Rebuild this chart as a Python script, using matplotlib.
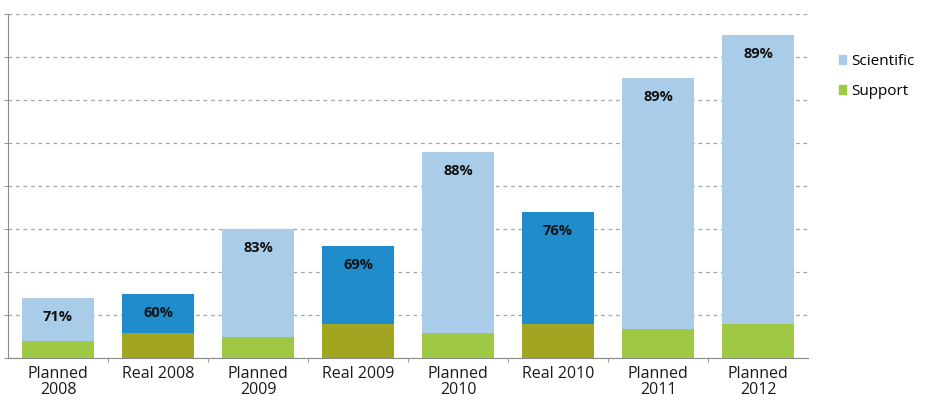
import matplotlib.pyplot as plt
from matplotlib.patches import Patch

categories = ['Planned\n2008', 'Real 2008', 'Planned\n2009', 'Real 2009',
              'Planned\n2010', 'Real 2010', 'Planned\n2011', 'Planned\n2012']
support = [0.40, 0.58, 0.49, 0.79, 0.58, 0.79, 0.67, 0.79]
scientific = [1.00, 0.91, 2.51, 1.81, 4.21, 2.61, 5.84, 6.72]
share_labels = ['71%', '60%', '83%', '69%', '88%', '76%', '89%', '89%']
is_real = [False, True, False, True, False, True, False, False]

plt.rcParams['font.family'] = ['Open Sans', 'DejaVu Sans']

fig = plt.figure(figsize=(9.25, 4.16), dpi=100)
ax = fig.add_axes([8 / 925, 58 / 416, 800 / 925, 344 / 416])

# real years are drawn in the darker shades
sci_colors = ['#1f8dcb' if r else '#a9cce9' for r in is_real]
sup_colors = ['#a2a520' if r else '#9fc944' for r in is_real]

x = list(range(len(categories)))
ax.bar(x, support, width=0.72, color=sup_colors, zorder=2)
bars = ax.bar(x, scientific, width=0.72, bottom=support, color=sci_colors, zorder=2)

for b, lab in zip(bars, share_labels):
    top = b.get_y() + b.get_height()
    ax.annotate(lab, (b.get_x() + b.get_width() / 2, top), xytext=(0, -19),
                textcoords='offset pixels', ha='center', va='center',
                fontsize=10.5, fontweight='bold', color='#111111')

ax.set_xlim(-0.5, 7.5)
ax.set_ylim(0, 8)
ax.set_yticks(range(0, 9))
ax.set_yticklabels([])
ax.yaxis.grid(True, linestyle=(0, (3, 3)), color='#a5a5a5', linewidth=0.9, zorder=0)
ax.tick_params(axis='y', length=3, color='#9a9a9a')

ax.set_xticks([i + 0.5 for i in range(7)])
ax.set_xticklabels([])
ax.tick_params(axis='x', length=3, color='#9a9a9a')
ax.set_xticks(x, minor=True)
ax.set_xticklabels(categories, minor=True, fontsize=11.5, color='#1a1a1a', linespacing=1.0)
ax.tick_params(axis='x', which='minor', length=0, pad=6)

for s in ['top', 'right']:
    ax.spines[s].set_visible(False)
for s in ['left', 'bottom']:
    ax.spines[s].set_color('#8a8a8a')

handles = [Patch(color='#a9cce9', label='Scientific'), Patch(color='#9fc944', label='Support')]
fig.legend(handles=handles, loc='upper left', bbox_to_anchor=(825 / 925, 1 - 40 / 416),
           frameon=False, fontsize=11, handlelength=0.5, handleheight=0.5,
           handletextpad=0.3, labelspacing=1.0)

fig.savefig('out.png', dpi=100)
